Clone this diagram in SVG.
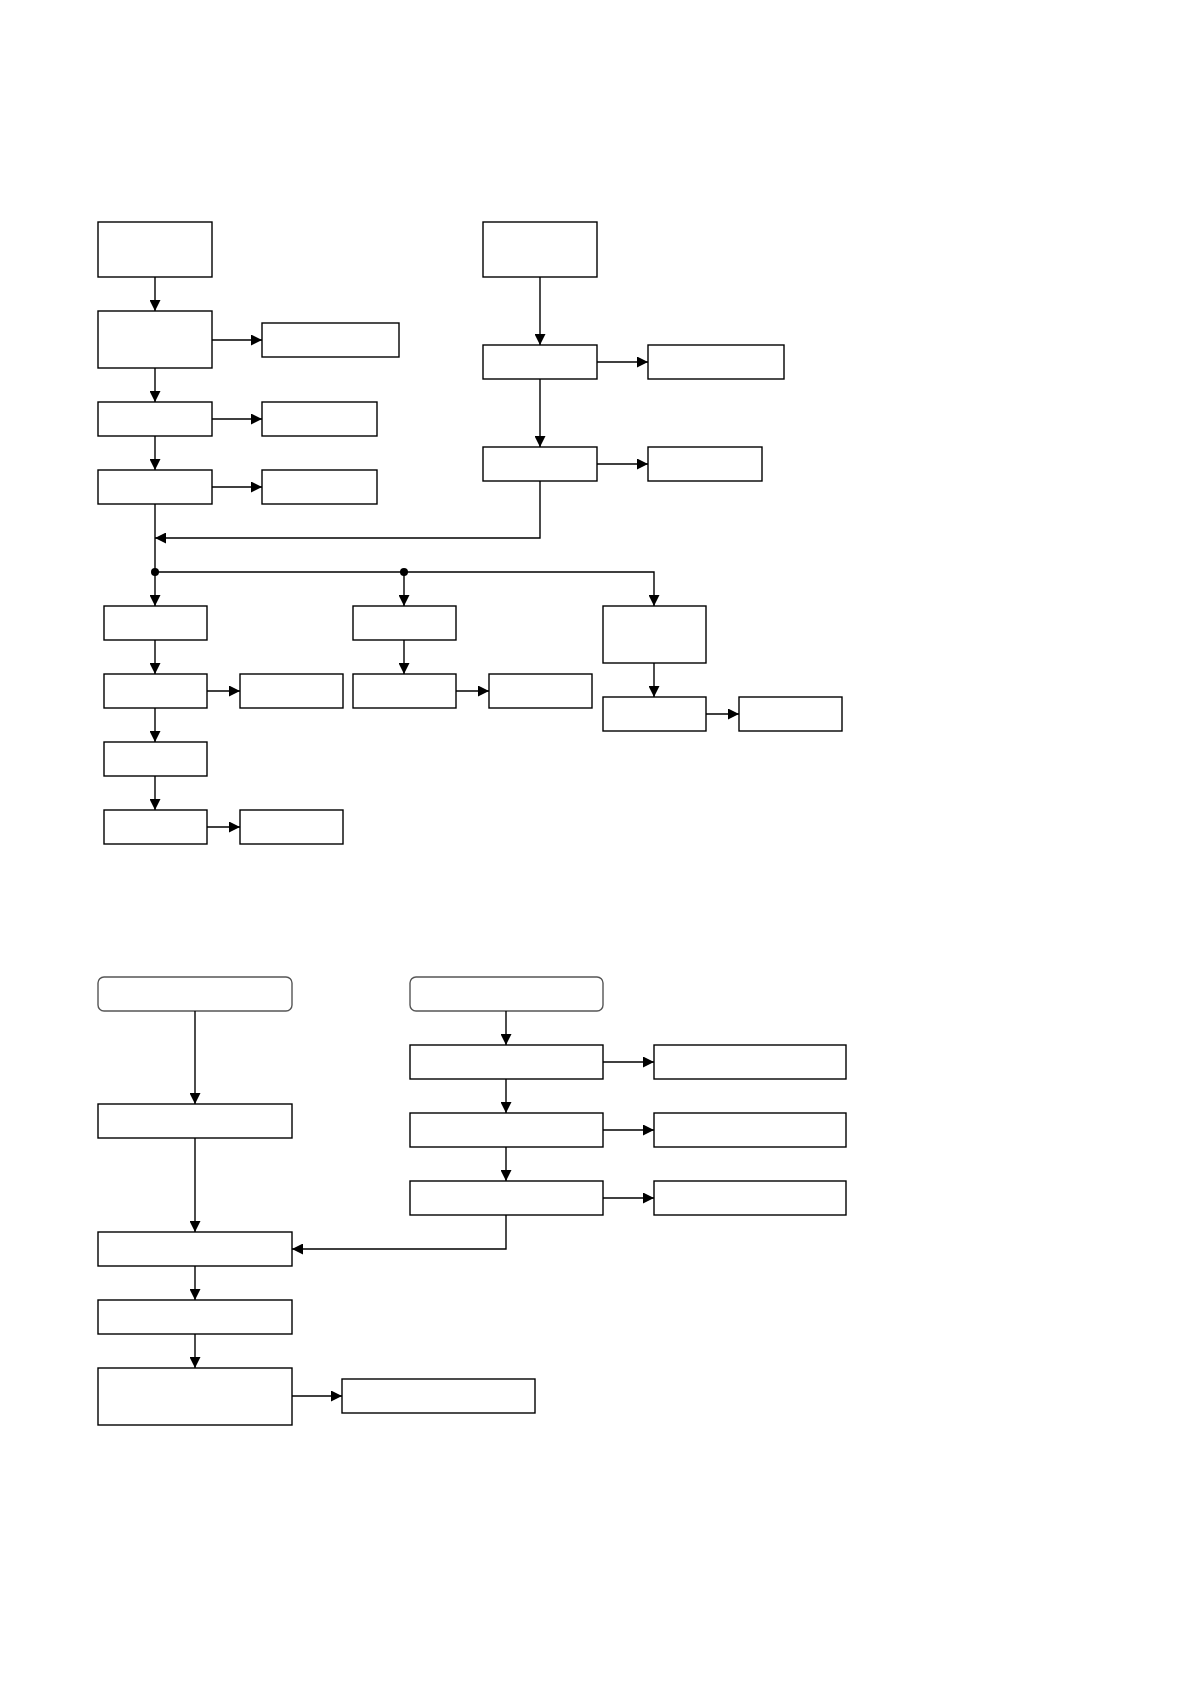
<svg xmlns="http://www.w3.org/2000/svg" width="1190" height="1684" viewBox="0 0 1190 1684">
<style>
.n{fill:#fff;stroke:#000;stroke-width:1.4}
.r{fill:#fff;stroke:#555;stroke-width:1.4}
.c{fill:none;stroke:#000;stroke-width:1.4;marker-end:url(#ah)}
.d{fill:#000}
</style>
<defs>
<marker id="ah" markerUnits="userSpaceOnUse" markerWidth="11" markerHeight="11" refX="10" refY="5" orient="auto" viewBox="0 0 10 10">
<path d="M0,0 L10,5 L0,10 z" fill="#000"/>
</marker>
</defs>
<rect width="1190" height="1684" fill="#fff"/>
<g id="nodes">
<g id="A"><rect class="n" x="98" y="222" width="114" height="55"/></g>
<g id="B"><rect class="n" x="98" y="311" width="114" height="57"/></g>
<g id="B2"><rect class="n" x="262" y="323" width="137" height="34"/></g>
<g id="C"><rect class="n" x="98" y="402" width="114" height="34"/></g>
<g id="C2"><rect class="n" x="262" y="402" width="115" height="34"/></g>
<g id="D"><rect class="n" x="98" y="470" width="114" height="34"/></g>
<g id="D2"><rect class="n" x="262" y="470" width="115" height="34"/></g>
<g id="E"><rect class="n" x="483" y="222" width="114" height="55"/></g>
<g id="F"><rect class="n" x="483" y="345" width="114" height="34"/></g>
<g id="F2"><rect class="n" x="648" y="345" width="136" height="34"/></g>
<g id="G"><rect class="n" x="483" y="447" width="114" height="34"/></g>
<g id="G2"><rect class="n" x="648" y="447" width="114" height="34"/></g>
<g id="H"><rect class="n" x="104" y="606" width="103" height="34"/></g>
<g id="I"><rect class="n" x="104" y="674" width="103" height="34"/></g>
<g id="I2"><rect class="n" x="240" y="674" width="103" height="34"/></g>
<g id="J"><rect class="n" x="104" y="742" width="103" height="34"/></g>
<g id="K"><rect class="n" x="104" y="810" width="103" height="34"/></g>
<g id="K2"><rect class="n" x="240" y="810" width="103" height="34"/></g>
<g id="L"><rect class="n" x="353" y="606" width="103" height="34"/></g>
<g id="M"><rect class="n" x="353" y="674" width="103" height="34"/></g>
<g id="M2"><rect class="n" x="489" y="674" width="103" height="34"/></g>
<g id="N"><rect class="n" x="603" y="606" width="103" height="57"/></g>
<g id="O"><rect class="n" x="603" y="697" width="103" height="34"/></g>
<g id="O2"><rect class="n" x="739" y="697" width="103" height="34"/></g>
<g id="P"><rect class="r" x="98" y="977" width="194" height="34" rx="6"/></g>
<g id="Q"><rect class="r" x="410" y="977" width="193" height="34" rx="6"/></g>
<g id="R"><rect class="n" x="98" y="1104" width="194" height="34"/></g>
<g id="Q1"><rect class="n" x="410" y="1045" width="193" height="34"/></g>
<g id="Q1r"><rect class="n" x="654" y="1045" width="192" height="34"/></g>
<g id="Q2"><rect class="n" x="410" y="1113" width="193" height="34"/></g>
<g id="Q2r"><rect class="n" x="654" y="1113" width="192" height="34"/></g>
<g id="Q3"><rect class="n" x="410" y="1181" width="193" height="34"/></g>
<g id="Q3r"><rect class="n" x="654" y="1181" width="192" height="34"/></g>
<g id="S"><rect class="n" x="98" y="1232" width="194" height="34"/></g>
<g id="T"><rect class="n" x="98" y="1300" width="194" height="34"/></g>
<g id="U"><rect class="n" x="98" y="1368" width="194" height="57"/></g>
<g id="U2"><rect class="n" x="342" y="1379" width="193" height="34"/></g>
</g>
<g id="connectors">
<path class="c" d="M155,277 V311"/>
<path class="c" d="M212,340 H262"/>
<path class="c" d="M155,368 V402"/>
<path class="c" d="M212,419 H262"/>
<path class="c" d="M155,436 V470"/>
<path class="c" d="M212,487 H262"/>
<path class="c" d="M540,277 V345"/>
<path class="c" d="M597,362 H648"/>
<path class="c" d="M540,379 V447"/>
<path class="c" d="M597,464 H648"/>
<path class="c" d="M540,481 V538 H155"/>
<path class="c" d="M155,504 V606"/>
<path class="c" d="M155,572 H654 V606"/>
<path class="c" d="M404,572 V606"/>
<circle class="d" cx="155" cy="572" r="4"/>
<circle class="d" cx="404" cy="572" r="4"/>
<path class="c" d="M155,640 V674"/>
<path class="c" d="M207,691 H240"/>
<path class="c" d="M155,708 V742"/>
<path class="c" d="M155,776 V810"/>
<path class="c" d="M207,827 H240"/>
<path class="c" d="M404,640 V674"/>
<path class="c" d="M456,691 H489"/>
<path class="c" d="M654,663 V697"/>
<path class="c" d="M706,714 H739"/>
<path class="c" d="M195,1011 V1104"/>
<path class="c" d="M195,1138 V1232"/>
<path class="c" d="M506,1011 V1045"/>
<path class="c" d="M603,1062 H654"/>
<path class="c" d="M506,1079 V1113"/>
<path class="c" d="M603,1130 H654"/>
<path class="c" d="M506,1147 V1181"/>
<path class="c" d="M603,1198 H654"/>
<path class="c" d="M506,1215 V1249 H292"/>
<path class="c" d="M195,1266 V1300"/>
<path class="c" d="M195,1334 V1368"/>
<path class="c" d="M292,1396 H342"/>
</g>
</svg>
